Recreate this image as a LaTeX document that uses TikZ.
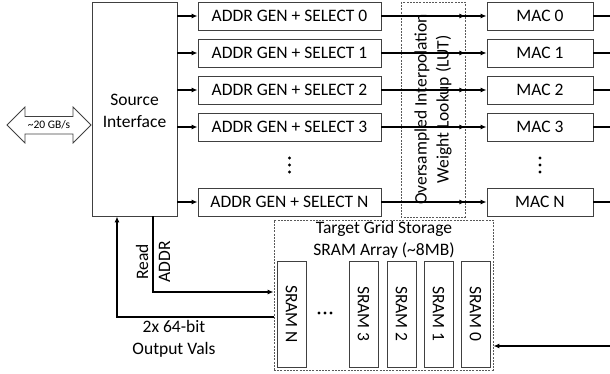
\documentclass[tikz,border=0pt]{standalone}
\usepackage{fontspec}
\setmainfont{Carlito}
\usetikzlibrary{positioning}
\usetikzlibrary{calc}
\usetikzlibrary{arrows.meta}

\tikzset{
  box/.style={draw=black!75, line width=0.8pt, inner sep=0pt, minimum height=28pt,
    font=\fontsize{17.5}{22}\selectfont},
  addrbox/.style={box, minimum width=183pt},
  macbox/.style={box, minimum width=106pt},
  srambox/.style={box, minimum width=106pt, minimum height=29pt, rotate=-90},
  dashbox/.style={draw=black!65, line width=0.8pt, dash pattern=on 2pt off 1.2pt, inner sep=0pt},
  arr/.style={line width=1.4pt, -{Latex[length=6pt,width=5pt]}},
  wire/.style={line width=1.4pt},
  lbl/.style={align=center, font=\fontsize{17.5}{22}\selectfont},
}

\begin{document}
\begin{tikzpicture}[x=1pt, y=-1pt]
\useasboundingbox (0,0) rectangle (610,374);

%---------------------------------------
% Shared positions
%---------------------------------------
\def\xAddr{289.5}
\def\xMac{540}
\def\yN{202}
\coordinate (edge) at (610,0);

%====================================================
% Source interface + off-chip link
%====================================================
\node[box, minimum width=85pt, minimum height=214pt] (src) at (134.5,109) {};
\node[lbl] (srctxt) at (134.5,111) {Source\\Interface};

% ---- double arrow (link bandwidth) ----
\draw[draw=black!75, line width=0.8pt]
  (7,125) -- (25,107) -- (25,116.5) -- (73,116.5) -- (73,107) -- (91,125)
  -- (73,143) -- (73,134) -- (25,134) -- (25,143) -- cycle;
\node[font=\fontsize{11.5}{13}\selectfont] (bw) at (49,125) {\textasciitilde20 GB/s};

%====================================================
% LUT
%====================================================
\node[dashbox, lbl, rotate=90, minimum width=215pt, minimum height=64pt] (lut) at (433,109.5)
  {Oversampled Interpolation\\Weight Lookup (LUT)};

%====================================================
% Rows: ADDR GEN + SELECT and MAC
%====================================================
\foreach \i/\y in {0/16,1/53,2/90,3/127,N/\yN} {
  \node[addrbox] (addr\i) at (\xAddr,\y) {ADDR GEN + SELECT \i};
  \node[macbox]  (mac\i)  at (\xMac,\y)  {MAC \i};
  \draw[arr] (src.east |- addr\i.west) -- (addr\i.west);
  \draw[arr] (addr\i.east) -- (addr\i.east -| lut.south);
  \draw[arr] (lut.north |- mac\i.west) -- (mac\i.west);
  \draw[wire] (mac\i.east) -- (mac\i.east -| edge);
}

% vertical dots
\foreach \y in {158,165,172} {
  \fill (\xAddr,\y) circle (1.7pt);
  \fill (\xMac,\y) circle (1.7pt);
}

%====================================================
% Target grid storage
%====================================================
\node[dashbox, minimum width=219pt, minimum height=150pt] (tgs) at (383.5,295) {};
\node[lbl] (tgstxt) at (384,240) {Target Grid Storage\\SRAM Array (\textasciitilde8MB)};

\foreach \i/\x in {N/291.5,3/363.5,2/401.5,1/438.5,0/475.5} {
  \node[srambox] (sram\i) at (\x,314) {SRAM \i};
}
\foreach \x in {319,325,331} {
  \fill (\x,313) circle (1.7pt);
}

% ---- read address / output values ----
\coordinate (rdcorner) at (153,292);
\coordinate (outcorner) at (117,317);
\coordinate (wrin) at (610,346);
\draw[arr] (src.south -| rdcorner) -- (rdcorner) -- (rdcorner -| tgs.west);
\draw[arr] (outcorner -| tgs.west) -- (outcorner) -- (outcorner |- src.south);
\draw[arr] (wrin) -- (wrin -| tgs.east);

\node[lbl, rotate=90] (rdlbl) at (153,262) {Read\\ADDR};
\node[lbl] (outlbl) at (174,339) {2x 64-bit\\Output Vals};

\end{tikzpicture}
\end{document}
